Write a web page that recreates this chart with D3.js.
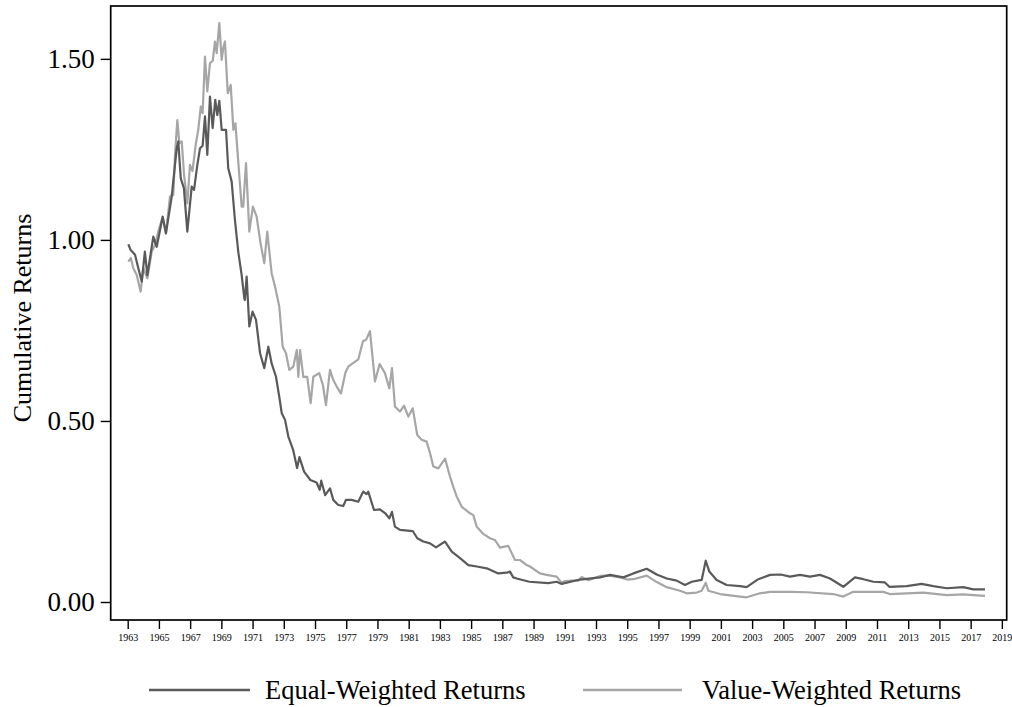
<!DOCTYPE html>
<html>
<head>
<meta charset="utf-8">
<script src="https://cdn.jsdelivr.net/npm/d3@7"></script>
<style>
  html, body { margin: 0; padding: 0; background: #fff; }
  svg { display: block; font-family: "Liberation Serif", "Times New Roman", serif; }
</style>
</head>
<body>
<svg id="chart" width="1012" height="707"></svg>
<script>
// ---- Data (decimal years, cumulative returns) ----
const ewYears = [1963.04,1963.19,1963.47,1963.68,1963.90,1964.10,1964.26,1964.64,1964.86,1965.24,1965.45,1965.82,1966.14,1966.24,1966.40,1966.60,1966.82,1967.10,1967.25,1967.46,1967.63,1967.80,1967.95,1968.10,1968.27,1968.44,1968.61,1968.74,1968.87,1969.02,1969.30,1969.44,1969.55,1969.66,1969.87,1970.09,1970.30,1970.47,1970.51,1970.62,1970.79,1971.00,1971.22,1971.48,1971.75,1972.01,1972.22,1972.50,1972.71,1972.87,1973.08,1973.29,1973.60,1973.85,1974.00,1974.30,1974.70,1975.10,1975.30,1975.40,1975.65,1975.96,1976.17,1976.49,1976.81,1976.98,1977.35,1977.77,1978.09,1978.30,1978.41,1978.78,1979.16,1979.50,1979.76,1979.93,1980.12,1980.44,1981.26,1981.55,1981.94,1982.37,1982.75,1983.33,1983.76,1984.29,1984.82,1985.36,1986.00,1986.74,1987.28,1987.49,1987.70,1987.92,1988.73,1989.94,1990.48,1990.80,1991.97,1993.26,1993.90,1994.75,1995.39,1996.25,1996.89,1997.53,1998.17,1998.70,1999.13,1999.77,2000.03,2000.26,2000.73,2001.37,2002.23,2002.65,2003.40,2004.15,2004.83,2005.43,2006.07,2006.71,2007.35,2007.99,2008.84,2009.59,2010.13,2010.77,2011.51,2011.79,2012.90,2013.86,2014.61,2015.47,2016.53,2017.17,2017.92];
const ewValues = [0.988,0.972,0.959,0.922,0.885,0.968,0.903,1.009,0.981,1.064,1.018,1.120,1.253,1.272,1.170,1.143,1.023,1.147,1.138,1.207,1.253,1.260,1.341,1.235,1.396,1.309,1.387,1.345,1.384,1.304,1.304,1.198,1.180,1.161,1.055,0.965,0.903,0.839,0.834,0.899,0.761,0.802,0.779,0.687,0.646,0.705,0.659,0.622,0.567,0.521,0.503,0.457,0.420,0.370,0.400,0.360,0.337,0.330,0.310,0.335,0.295,0.314,0.282,0.268,0.265,0.282,0.282,0.277,0.305,0.298,0.305,0.254,0.256,0.245,0.231,0.249,0.208,0.199,0.196,0.176,0.167,0.162,0.151,0.167,0.139,0.121,0.102,0.098,0.093,0.079,0.081,0.084,0.068,0.065,0.056,0.052,0.056,0.050,0.062,0.068,0.075,0.068,0.079,0.092,0.076,0.065,0.059,0.047,0.056,0.061,0.114,0.084,0.061,0.047,0.044,0.041,0.063,0.075,0.076,0.070,0.075,0.070,0.075,0.065,0.042,0.068,0.063,0.056,0.054,0.042,0.044,0.050,0.044,0.038,0.041,0.035,0.035];

const vwYears = [1963.04,1963.20,1963.36,1963.58,1963.83,1964.00,1964.26,1964.54,1964.75,1964.96,1965.24,1965.45,1965.71,1965.92,1966.03,1966.18,1966.31,1966.46,1966.61,1966.82,1966.99,1967.15,1967.37,1967.52,1967.68,1967.80,1967.95,1968.10,1968.27,1968.45,1968.59,1968.70,1968.87,1969.02,1969.12,1969.23,1969.41,1969.60,1969.77,1969.90,1970.09,1970.30,1970.40,1970.58,1970.79,1971.02,1971.26,1971.50,1971.75,1971.94,1972.22,1972.44,1972.71,1972.93,1973.14,1973.35,1973.61,1973.83,1973.93,1974.04,1974.25,1974.50,1974.72,1974.89,1975.27,1975.50,1975.70,1975.96,1976.17,1976.39,1976.66,1976.95,1977.13,1977.41,1977.77,1978.07,1978.27,1978.52,1978.84,1979.14,1979.48,1979.76,1979.93,1980.12,1980.44,1980.70,1980.98,1981.26,1981.55,1981.83,1982.15,1982.37,1982.58,1982.90,1983.33,1983.65,1983.86,1984.08,1984.40,1984.93,1985.14,1985.36,1985.78,1986.21,1986.53,1986.85,1987.38,1987.81,1988.13,1988.56,1988.77,1989.41,1989.84,1990.48,1990.80,1991.01,1991.44,1991.87,1992.08,1992.51,1993.26,1993.90,1994.54,1995.00,1995.39,1996.25,1996.89,1997.53,1998.38,1998.81,1999.45,1999.77,2000.03,2000.20,2000.95,2002.23,2002.65,2003.50,2004.15,2005.50,2006.49,2008.20,2008.84,2009.48,2011.40,2011.83,2013.97,2015.47,2016.50,2017.92];
const vwValues = [0.940,0.950,0.922,0.903,0.857,0.922,0.894,0.968,0.986,1.023,1.064,1.018,1.120,1.124,1.235,1.331,1.267,1.272,1.180,1.101,1.207,1.190,1.267,1.304,1.368,1.350,1.506,1.410,1.488,1.495,1.548,1.516,1.599,1.497,1.530,1.548,1.405,1.428,1.304,1.322,1.212,1.092,1.092,1.212,1.023,1.092,1.064,0.993,0.936,1.023,0.908,0.871,0.816,0.705,0.687,0.641,0.650,0.696,0.622,0.696,0.622,0.622,0.549,0.622,0.632,0.600,0.544,0.641,0.613,0.595,0.576,0.634,0.650,0.659,0.670,0.720,0.724,0.748,0.609,0.657,0.632,0.590,0.646,0.540,0.526,0.542,0.512,0.535,0.461,0.448,0.443,0.411,0.374,0.369,0.396,0.346,0.318,0.291,0.263,0.245,0.240,0.208,0.188,0.176,0.171,0.150,0.155,0.116,0.116,0.102,0.098,0.079,0.075,0.070,0.053,0.058,0.059,0.059,0.069,0.060,0.072,0.073,0.068,0.062,0.063,0.073,0.055,0.041,0.031,0.024,0.026,0.031,0.053,0.031,0.022,0.015,0.013,0.024,0.028,0.028,0.027,0.022,0.015,0.028,0.028,0.022,0.026,0.019,0.021,0.017];

const xTickYears = d3.range(1963, 2020, 2);
const yTickValues = [0, 0.5, 1.0, 1.5];
const seriesNames = ["Equal-Weighted Returns", "Value-Weighted Returns"];
const seriesColors = ["#5a5a5a", "#a6a6a6"];
const yTitle = "Cumulative Returns";

// ---- Layout ----
const svg = d3.select("#chart");
const plot = { left: 110.7, right: 1006.7, top: 6, bottom: 620 };

const x = d3.scaleLinear().domain([1961.911, 2019.31]).range([plot.left, plot.right]);
const y = d3.scaleLinear().domain([-0.0497, 1.646]).range([plot.bottom, plot.top]);

// Lines
const line = d3.line().x(d => x(d[0])).y(d => y(d[1]));
const ew = ewYears.map((t, i) => [t, ewValues[i]]);
const vw = vwYears.map((t, i) => [t, vwValues[i]]);

svg.append("path").datum(vw).attr("d", line)
  .attr("fill", "none").attr("stroke", seriesColors[1]).attr("stroke-width", 2.2)
  .attr("stroke-linejoin", "round");
svg.append("path").datum(ew).attr("d", line)
  .attr("fill", "none").attr("stroke", seriesColors[0]).attr("stroke-width", 2.2)
  .attr("stroke-linejoin", "round");

// Frame
svg.append("rect")
  .attr("x", plot.left).attr("y", plot.top)
  .attr("width", plot.right - plot.left).attr("height", plot.bottom - plot.top)
  .attr("fill", "none").attr("stroke", "#000").attr("stroke-width", 1.7);

// X axis
const xAxis = d3.axisBottom(x).tickValues(xTickYears).tickFormat(d3.format("d"))
  .tickSize(9).tickPadding(5);
const gx = svg.append("g").attr("transform", `translate(0,${plot.bottom})`).call(xAxis);
gx.select(".domain").remove();
gx.selectAll(".tick line").attr("stroke", "#000").attr("stroke-width", 1.4);
gx.selectAll(".tick text").attr("fill", "#000")
  .style("font-family", "'Liberation Serif', serif").style("font-size", "10px");

// Y axis
const yAxis = d3.axisLeft(y).tickValues(yTickValues).tickFormat(d3.format(".2f"))
  .tickSize(10).tickPadding(6);
const gy = svg.append("g").attr("transform", `translate(${plot.left},0)`).call(yAxis);
gy.select(".domain").remove();
gy.selectAll(".tick line").attr("stroke", "#000").attr("stroke-width", 1.4);
gy.selectAll(".tick text").attr("fill", "#000")
  .style("font-family", "'Liberation Serif', serif").style("font-size", "27px");

// Y title
svg.append("text")
  .attr("transform", `translate(31,${(plot.top + plot.bottom) / 2 + 5}) rotate(-90)`)
  .attr("text-anchor", "middle")
  .style("font-size", "26px")
  .text(yTitle);

// Legend
const legendItems = [
  { x1: 149, x2: 250, tx: 265 },
  { x1: 583, x2: 682, tx: 702 }
];
const ly = 690;
legendItems.forEach((it, i) => {
  svg.append("line").attr("x1", it.x1).attr("x2", it.x2).attr("y1", ly).attr("y2", ly)
    .attr("stroke", seriesColors[i]).attr("stroke-width", 2.4);
  svg.append("text").attr("x", it.tx).attr("y", ly + 9)
    .style("font-size", "26.5px").text(seriesNames[i]);
});
</script>
</body>
</html>
